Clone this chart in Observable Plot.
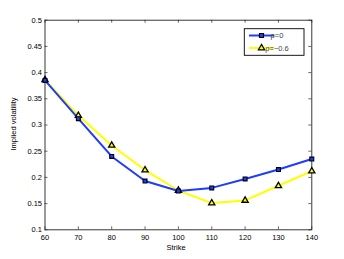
<!DOCTYPE html>
<html>
<head>
<meta charset="utf-8">
<script src="https://cdn.jsdelivr.net/npm/d3@7"></script>
<script src="https://cdn.jsdelivr.net/npm/@observablehq/plot@0.6"></script>
<style>
  html, body { margin: 0; padding: 0; background: #fff; }
  #chart { width: 344px; height: 259px; }
</style>
</head>
<body>
<div id="chart"></div>
<script>
const strikes = [60, 70, 80, 90, 100, 110, 120, 130, 140];
const volRho0 = [0.385, 0.312, 0.240, 0.193, 0.174, 0.180, 0.197, 0.215, 0.235];
const volRhoNeg = [0.386, 0.318, 0.261, 0.214, 0.175, 0.151, 0.156, 0.184, 0.212];
const seriesNames = ["ρ=0", "ρ=−0.6"];
const xTicks = [60, 70, 80, 90, 100, 110, 120, 130, 140];
const yTicks = [0.1, 0.15, 0.2, 0.25, 0.3, 0.35, 0.4, 0.45, 0.5];

const rows0 = strikes.map((k, i) => ({k, v: volRho0[i]}));
const rows1 = strikes.map((k, i) => ({k, v: volRhoNeg[i]}));

const W = 344, H = 259;
const mL = 44.5, mR = 32.7, mT = 19.7, mB = 29.7;
const fw = W - mL - mR, fh = H - mT - mB;
const tl = 3;
const blue = "#1e3cff", yellow = "#ffff00";
const font = "Liberation Sans, Arial, Helvetica, sans-serif";

const plot = Plot.plot({
  width: W, height: H,
  marginLeft: mL, marginRight: mR, marginTop: mT, marginBottom: mB,
  style: {fontFamily: font, fontSize: "7.5px", background: "#fff", color: "#000"},
  x: {domain: [60, 140]},
  y: {domain: [0.1, 0.5]},
  marks: [
    Plot.axisX(xTicks, {tickSize: 0, tickPadding: 5, label: null, tickFormat: d => String(d)}),
    Plot.axisY(yTicks, {tickSize: 0, tickPadding: 3, label: null, tickFormat: d => String(d)}),
    Plot.tickX(xTicks, {x: d => d, insetTop: fh - tl, stroke: "#444", strokeWidth: 0.8}),
    Plot.tickX(xTicks, {x: d => d, insetBottom: fh - tl, stroke: "#444", strokeWidth: 0.8}),
    Plot.tickY(yTicks, {y: d => d, insetRight: fw - tl, stroke: "#444", strokeWidth: 0.8}),
    Plot.tickY(yTicks, {y: d => d, insetLeft: fw - tl, stroke: "#444", strokeWidth: 0.8}),
    Plot.frame({stroke: "#222", strokeWidth: 0.9}),
    Plot.line(rows1, {x: "k", y: "v", stroke: yellow, strokeWidth: 2}),
    Plot.line(rows0, {x: "k", y: "v", stroke: blue, strokeWidth: 2}),
    Plot.dot(rows1, {x: "k", y: "v", symbol: "triangle", r: 2.3, fill: yellow, stroke: "#000", strokeWidth: 1.3}),
    Plot.dot(rows0, {x: "k", y: "v", symbol: "square", r: 2.2, fill: blue, stroke: "#000", strokeWidth: 1.1})
  ]
});

const svg = d3.select(plot);
svg.append("text").attr("x", 176).attr("y", 250).attr("text-anchor", "middle")
  .attr("font-family", font).attr("font-size", "7.5px").text("Strike");
svg.append("text").attr("transform", "translate(16,124) rotate(-90)").attr("text-anchor", "middle")
  .attr("font-family", font).attr("font-size", "7.5px").text("Implied volatility");

const lg = svg.append("g");
lg.append("rect").attr("x", 244.3).attr("y", 28.7).attr("width", 59.7).attr("height", 26.6)
  .attr("fill", "#fff").attr("stroke", "#000").attr("stroke-width", 0.9);
const rowsY = [35.5, 48];
const colors = [blue, yellow];
const syms = [d3.symbolSquare, d3.symbolTriangle];
const symSize = [16, 17];
seriesNames.forEach((name, i) => {
  const y = rowsY[i];
  lg.append("line").attr("x1", 249).attr("x2", 274).attr("y1", y).attr("y2", y)
    .attr("stroke", colors[i]).attr("stroke-width", 2);
  lg.append("path").attr("transform", `translate(261.5,${y})`)
    .attr("d", d3.symbol(syms[i], symSize[i])())
    .attr("fill", colors[i]).attr("stroke", "#000").attr("stroke-width", 1.2);
  lg.append("text").attr("x", 277).attr("y", y).attr("dy", "0.35em")
    .attr("font-family", font).attr("font-size", "7.5px").attr("fill", "#444").text(name);
});

document.getElementById("chart").appendChild(plot);
</script>
</body>
</html>
